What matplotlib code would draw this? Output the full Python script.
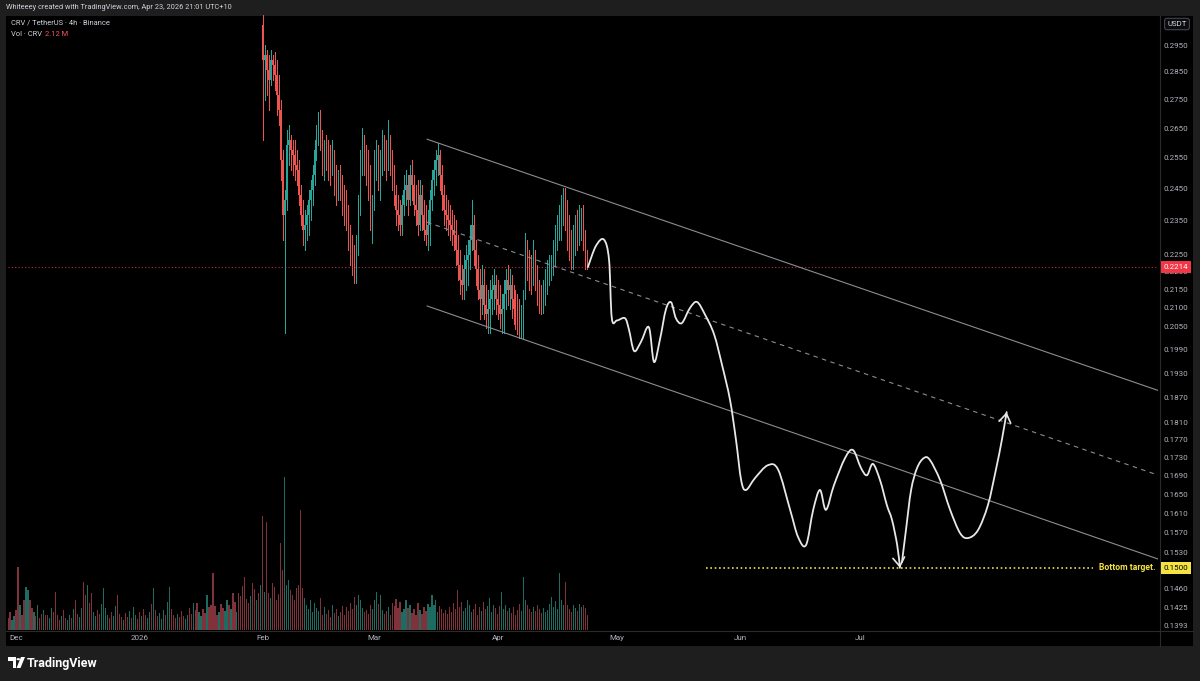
import numpy as np
import matplotlib
matplotlib.use('Agg')
import matplotlib.pyplot as plt
from matplotlib.path import Path
from matplotlib.patches import PathPatch, Rectangle, Polygon, Circle
from matplotlib.lines import Line2D
from matplotlib.ticker import NullLocator, NullFormatter

plt.rcParams['font.family'] = ['Roboto', 'DejaVu Sans']

# ---- data (days counted from 1 Dec 2025) ----
candle_start_day = 62      # 1 Feb 2026
bar_step = 0.5             # 12h bars
first_open = 0.3027

closes = [
    .2894, .2912, .2857, .2820, .2894, .2875, .2838, .2766, .2713, .2543,
    .2369, .2415, .2593, .2610, .2576, .2560, .2527, .2511, .2431, .2369,
    .2324, .2339, .2369, .2415, .2447, .2494, .2576, .2627, .2661, .2610,
    .2543, .2576, .2560, .2543, .2527, .2576, .2478, .2447, .2478, .2462,
    .2415, .2384, .2369, .2309, .2264, .2235, .2207, .2279, .2400, .2527,
    .2576, .2543, .2511, .2478, .2369, .2415, .2527, .2560, .2494, .2543,
    .2593, .2576, .2527, .2610, .2560, .2494, .2431, .2384, .2369, .2339,
    .2400, .2447, .2462, .2415, .2494, .2462, .2400, .2384, .2339, .2431,
    .2369, .2324, .2309, .2339, .2415, .2478, .2511, .2543, .2560, .2494,
    .2431, .2384, .2369, .2354, .2339, .2324, .2309, .2264, .2221, .2178,
    .2164, .2207, .2235, .2250, .2294, .2339, .2264, .2207, .2150, .2123,
    .2164, .2109, .2082, .2096, .2123, .2150, .2164, .2123, .2109, .2082,
    .2096, .2137, .2178, .2150, .2164, .2123, .2096, .2082, .2069, .2056,
    .2069, .2123, .2264, .2221, .2207, .2178, .2235, .2192, .2150, .2123,
    .2109, .2137, .2164, .2207, .2221, .2228, .2264, .2309, .2339, .2369,
    .2384, .2415, .2369, .2309, .2279, .2250, .2294, .2339, .2324, .2354,
    .2369, .2309, .2235, .2214,
]
highs = [
    .3100, .2950, .2931, .2912, .2931, .2912, .2923, .2894, .2838, .2748,
    .2576, .2447, .2644, .2661, .2627, .2610, .2610, .2576, .2543, .2462,
    .2415, .2384, .2400, .2447, .2478, .2527, .2610, .2661, .2705, .2713,
    .2644, .2610, .2627, .2610, .2593, .2610, .2576, .2527, .2511, .2527,
    .2494, .2462, .2447, .2400, .2339, .2309, .2279, .2309, .2431, .2576,
    .2650, .2627, .2593, .2576, .2527, .2431, .2576, .2610, .2593, .2576,
    .2644, .2627, .2610, .2678, .2627, .2576, .2527, .2462, .2431, .2415,
    .2431, .2494, .2511, .2494, .2527, .2543, .2494, .2462, .2478, .2478,
    .2462, .2415, .2400, .2384, .2447, .2511, .2543, .2576, .2599, .2576,
    .2527, .2462, .2431, .2415, .2400, .2384, .2369, .2354, .2309, .2264,
    .2221, .2250, .2279, .2294, .2339, .2415, .2369, .2294, .2250, .2207,
    .2221, .2207, .2164, .2150, .2178, .2192, .2207, .2192, .2178, .2164,
    .2137, .2178, .2207, .2221, .2207, .2192, .2164, .2150, .2137, .2123,
    .2109, .2150, .2313, .2294, .2264, .2250, .2294, .2264, .2221, .2178,
    .2164, .2178, .2207, .2235, .2250, .2250, .2294, .2339, .2369, .2400,
    .2431, .2452, .2452, .2415, .2369, .2324, .2339, .2369, .2384, .2400,
    .2389, .2400, .2324, .2264,
]
lows = [
    .2610, .2748, .2766, .2713, .2802, .2820, .2784, .2695, .2661, .2478,
    .2294, .2033, .2384, .2527, .2511, .2494, .2478, .2462, .2400, .2339,
    .2279, .2264, .2294, .2309, .2354, .2400, .2462, .2543, .2593, .2576,
    .2494, .2478, .2511, .2478, .2462, .2494, .2431, .2400, .2415, .2415,
    .2369, .2339, .2324, .2264, .2221, .2192, .2168, .2168, .2250, .2369,
    .2494, .2494, .2462, .2415, .2324, .2283, .2384, .2478, .2447, .2415,
    .2494, .2511, .2478, .2511, .2494, .2447, .2400, .2339, .2324, .2309,
    .2309, .2369, .2400, .2369, .2400, .2415, .2369, .2339, .2309, .2324,
    .2324, .2294, .2279, .2264, .2279, .2384, .2431, .2462, .2494, .2447,
    .2384, .2339, .2324, .2309, .2294, .2279, .2264, .2221, .2178, .2137,
    .2123, .2123, .2150, .2164, .2207, .2264, .2221, .2164, .2123, .2069,
    .2082, .2069, .2045, .2033, .2033, .2082, .2096, .2082, .2069, .2045,
    .2033, .2033, .2096, .2109, .2096, .2072, .2056, .2042, .2029, .2019,
    .2019, .2019, .2123, .2178, .2150, .2137, .2164, .2150, .2109, .2086,
    .2082, .2086, .2109, .2137, .2164, .2178, .2192, .2221, .2264, .2294,
    .2294, .2339, .2324, .2264, .2235, .2207, .2207, .2250, .2264, .2279,
    .2294, .2264, .2207, .2207,
]

# volume (M), 12h bars starting 29 Nov 2025
vol_start_day = -2
volume = [
    2.4, 3.6, 2.0, 2.8, 4.0, 12.6, 5.0, 3.0, 6.0, 8.6,
    8.0, 6.0, 4.4, 3.6, 2.8, 5.0, 2.4, 3.2, 4.0, 3.0,
    3.0, 2.4, 4.4, 3.6, 7.6, 3.0, 2.0, 2.8, 4.0, 2.4,
    2.0, 3.0, 2.4, 4.2, 6.0, 3.2, 2.6, 4.4, 9.6, 7.0,
    9.0, 5.4, 7.4, 3.6, 2.8, 4.0, 3.2, 5.2, 8.4, 4.4,
    3.0, 2.4, 3.6, 2.8, 4.8, 7.0, 3.2, 2.6, 2.0, 3.4,
    2.6, 3.8, 2.4, 4.6, 3.0, 2.2, 3.6, 2.8, 4.2, 3.0,
    2.4, 3.6, 5.2, 8.4, 4.0, 2.8, 3.4, 2.2, 4.0, 3.0,
    5.6, 8.6, 4.2, 3.0, 2.4, 3.2, 2.6, 3.8, 2.8, 2.2,
    3.0, 4.4, 3.2, 5.4, 4.0, 5.4, 3.6, 2.8, 4.2, 3.4,
    7.0, 4.6, 5.0, 11.4, 4.8, 3.0, 3.6, 5.2, 4.4, 3.8,
    6.0, 5.0, 4.2, 7.4, 5.6, 3.6, 7.4, 6.8, 8.8, 10.6,
    6.2, 5.4, 6.8, 9.4, 8.2, 6.0, 7.4, 9.0,
    22.8, 7.6, 21.6, 7.4, 6.4, 9.4, 8.6, 6.0, 7.2, 17.4,
    12.0, 30.6, 9.0, 10.0, 8.0, 7.0, 6.0, 8.4, 9.0, 24.0,
    8.4, 6.4,
    5.0, 4.2, 6.0, 3.6, 5.4, 4.4, 3.8, 6.4, 3.0, 4.6,
    3.2, 4.0, 2.6, 5.0, 3.4, 4.2, 2.8, 3.6, 4.8, 3.0,
    4.6, 3.8, 5.4, 4.2, 6.6, 5.0, 7.0, 6.0, 4.4, 3.6,
    4.0, 3.2, 5.0, 4.2, 6.0, 7.6, 5.2, 7.0, 4.0, 3.2,
    3.8, 4.6, 3.0, 5.4, 4.8, 6.2, 4.4, 5.6, 3.6, 4.2,
    6.0, 4.4, 5.0, 3.4, 4.2, 3.0, 5.4, 4.0, 3.2, 4.6,
    3.8, 5.2, 4.6, 7.0, 5.0, 6.0, 3.6, 4.8, 4.2, 3.4,
    4.0, 3.2, 4.6, 3.6, 5.4, 4.2, 8.0, 4.6, 5.6, 3.8,
    4.4, 6.0, 5.0, 3.6, 4.2, 5.2, 3.0, 4.6, 3.8, 5.6,
    4.2, 4.8, 6.4, 3.6, 5.0, 4.4, 3.2, 4.8, 7.6, 4.2,
    5.0, 3.8, 4.4, 3.4, 4.6, 3.0, 4.0, 5.2, 3.8, 10.6,
    6.0, 5.0, 4.2, 3.6, 4.6, 3.8, 5.0, 4.2, 3.4, 4.4,
    3.6, 4.0, 5.2, 6.6, 4.6, 5.8, 4.2, 11.4, 6.0, 5.0,
    9.6, 5.0, 4.2, 3.6, 5.0, 4.4, 3.8, 5.2, 4.6, 5.0,
    4.4, 3.0,
]
# up/down for the volume bars before the visible candles
pre_feb_dirs = ''.join([
    'dduuddud', 'duuddudu', 'ddudduud', 'dddudduu',
    'dudduudd', 'udduuddu', 'uuudduud', 'dduddudu',
    'uddudduu', 'dudduuud', 'uudddudd', 'duuddudd',
    'uudduddd', 'ddudduud', 'uddudddd', 'dduddudu',
])

month_days = [0, 31, 62, 90, 121, 151, 182, 212]
month_labels = ['Dec', '2026', 'Feb', 'Mar', 'Apr', 'May', 'Jun', 'Jul']
price_ticks = [0.2950, 0.2850, 0.2750, 0.2650, 0.2550, 0.2450, 0.2350, 0.2250,
               0.2200, 0.2150, 0.2100, 0.2050, 0.1990, 0.1930, 0.1870, 0.1810,
               0.1770, 0.1730, 0.1690, 0.1650, 0.1610, 0.1570, 0.1530, 0.1460,
               0.1425, 0.1393]
last_price = 0.2214
target_price = 0.1500
target_days = [173.4, 270.6]

channel_days = [103.3, 290.0]
channel_upper = [0.2612, 0.1877]
channel_mid = [0.2346, 0.1682]
channel_lower = [0.2105, 0.1509]

path_a_days = [143.7, 145.7, 147.7, 149.0, 149.7, 151.0, 153.0, 154.0, 155.3, 157.0,
               159.0, 160.3, 161.8, 163.3, 164.6, 165.8, 167.3, 169.3, 171.1, 173.1,
               175.4, 177.4, 179.4, 180.9, 182.2, 183.4, 185.7, 188.9, 191.5, 194.5,
               196.5, 198.5, 200.3, 202.0, 203.5, 205.5, 208.3, 210.3, 212.3, 213.8,
               215.3, 217.1, 218.8, 220.1, 221.4, 222.1]
path_a_prices = [.2214, .2275, .2294, .2235, .2072, .2066, .2072, .2042, .1986, .2009,
                 .2048, .1958, .2016, .2096, .2115, .2072, .2059, .2099, .2116, .2082,
                 .2029, .1950, .1864, .1770, .1680, .1659, .1685, .1713, .1703, .1617,
                 .1561, .1545, .1617, .1659, .1617, .1669, .1729, .1747, .1707, .1691,
                 .1716, .1680, .1627, .1596, .1545, .1500]
path_b_days = [222.6, 223.6, 224.9, 226.4, 228.1, 229.6, 232.2, 234.7, 237.2, 239.2,
               241.7, 244.2, 246.2, 247.7, 248.9]
path_b_prices = [.1511, .1575, .1659, .1707, .1729, .1725, .1680, .1617, .1569, .1559,
                 .1575, .1627, .1703, .1770, .1835]

UP = '#26a69a'
DOWN = '#ef5350'
AXIS_TXT = '#b2b5be'
W, H = 1200, 681


def px(x, y):
    return x / W, 1 - y / H


def smooth(days, prices):
    # catmull-rom through the waypoints, built in (day, log price)
    p = np.column_stack([days, np.log(prices)])
    n = len(p)
    verts = [p[0]]
    codes = [Path.MOVETO]
    for i in range(n - 1):
        p0 = p[max(i - 1, 0)]
        p1 = p[i]
        p2 = p[i + 1]
        p3 = p[min(i + 2, n - 1)]
        verts += [p1 + (p2 - p0) / 6, p2 - (p3 - p1) / 6, p2]
        codes += [Path.CURVE4] * 3
    verts = np.array(verts)
    verts[:, 1] = np.exp(verts[:, 1])
    return Path(verts, codes), verts


fig = plt.figure(figsize=(12, 6.81), dpi=100, facecolor='#1e1e1e')
fig.add_artist(Rectangle(px(6, 646), 1187 / W, 630 / H, transform=fig.transFigure,
                         fc='black', ec='none', zorder=0))

rect = [8 / W, 1 - 630 / H, 1150 / W, 615 / H]
ax_v = fig.add_axes(rect, zorder=1)
ax = fig.add_axes(rect, zorder=2)
ax.patch.set_visible(False)
ax_v.axis('off')

xlim = (-2.01, 286.93)
ax.set_xlim(*xlim)
ax_v.set_xlim(*xlim)

# volume
n_c = len(closes)
opens = [first_open] + closes[:-1]
up = [c >= o for o, c in zip(opens, closes)]
n_pre = len(volume) - n_c
vol_up = [pre_feb_dirs[j] == 'u' for j in range(n_pre)] + up
vol_days = vol_start_day + bar_step * np.arange(len(volume))
vol_cols = ['#1d6b61' if u else '#80323a' for u in vol_up]
ax_v.bar(vol_days, volume, width=0.3, color=vol_cols, lw=0, antialiased=False)
ax_v.set_ylim(0, 123)

# candles
days_c = candle_start_day + bar_step * np.arange(n_c)
o = np.array(opens)
c = np.array(closes)
hi = np.maximum(np.array(highs), np.maximum(o, c))
lo = np.minimum(np.array(lows), np.minimum(o, c))
cols = [UP if u else DOWN for u in up]
ax.vlines(days_c, lo, hi, colors=cols, lw=0.7, zorder=3, antialiased=False)
ax.bar(days_c, np.maximum(np.abs(c - o), 0.0004), bottom=np.minimum(o, c),
       width=0.3, color=cols, lw=0, zorder=3, antialiased=False)

ax.set_yscale('log')
ax.set_ylim(0.13841, 0.30675)

# last price line
ax.axhline(last_price, color='#f23645', lw=0.8, ls=(0, (1, 2)), alpha=0.8, zorder=2)

# channel
ax.plot(channel_days, channel_upper, color='#8a8d94', lw=0.8, zorder=4)
ax.plot(channel_days, channel_lower, color='#8a8d94', lw=0.8, zorder=4)
ax.plot(channel_days, channel_mid, color='#8a8d94', lw=0.8, ls=(0, (4, 4)), zorder=4)

# projected path
for d, pr in [(path_a_days, path_a_prices), (path_b_days, path_b_prices)]:
    path, verts = smooth(d, pr)
    ax.add_patch(PathPatch(path, fc='none', ec='#e8e8e8', lw=1.3, zorder=5,
                           capstyle='round'))
    ax.annotate('', xy=verts[-1], xytext=verts[-2],
                arrowprops=dict(arrowstyle='->,head_length=0.45,head_width=0.3',
                                color='#e8e8e8', lw=1.2, shrinkA=0, shrinkB=0,
                                mutation_scale=14), zorder=5)

# bottom target
ax.plot(target_days, [target_price] * 2, color='#e6de55', lw=1.2,
        ls=(0, (1, 1.6)), zorder=4)
ax.text(0.9975, target_price, 'Bottom target.', transform=ax.get_yaxis_transform(),
        ha='right', va='center', fontsize=6.2, fontweight='bold', color='#f5e342')

# axes styling
for s in ax.spines.values():
    s.set_visible(False)
ax.set_xticks(month_days)
ax.set_xticklabels(month_labels)
ax.yaxis.tick_right()
ax.set_yticks(price_ticks)
ax.set_yticklabels(['%.4f' % t for t in price_ticks])
ax.yaxis.set_minor_locator(NullLocator())
ax.yaxis.set_minor_formatter(NullFormatter())
ax.tick_params(axis='x', length=0, pad=3.5, labelsize=5.8, labelcolor=AXIS_TXT)
ax.tick_params(axis='y', length=0, pad=4, labelsize=5.8, labelcolor=AXIS_TXT)

# price labels on the scale
ax.text(1.0047, last_price, '%.4f' % last_price, transform=ax.get_yaxis_transform(),
        ha='left', va='center', fontsize=5.8, color='white', clip_on=False, zorder=10,
        bbox=dict(boxstyle='square,pad=0.35', fc='#f23645', ec='none'))
ax.text(1.0047, target_price, '%.4f' % target_price, transform=ax.get_yaxis_transform(),
        ha='left', va='center', fontsize=5.8, color='black', clip_on=False, zorder=10,
        bbox=dict(boxstyle='square,pad=0.35', fc='#f5e342', ec='none'))

# separators
fig.add_artist(Line2D([1160 / W, 1160 / W], [px(0, 16)[1], px(0, 646)[1]],
                      color='#2a2a2a', lw=0.8))
fig.add_artist(Line2D([6 / W, 1193 / W], [px(0, 631)[1]] * 2, color='#2a2a2a', lw=0.8))

# header texts
fig.text(*px(6, 7.5), 'Whiteeey created with TradingView.com, Apr 23, 2026 21:01 UTC+10',
         fontsize=5.3, color='#d1d4dc', va='center')
fig.text(*px(11, 23), 'CRV / TetherUS · 4h · Binance', fontsize=5.4, color='#d1d4dc',
         va='center')
fig.text(*px(11, 34), 'Vol · CRV', fontsize=5.4, color='#d1d4dc', va='center')
fig.text(*px(45, 34), '2.12 M', fontsize=5.4, color='#f7525f', va='center')
fig.text(*px(1177, 24), 'USDT', fontsize=5.6, color='#d1d4dc', va='center', ha='center',
         bbox=dict(boxstyle='round,pad=0.35,rounding_size=0.3', fc='#0c0c0c',
                   ec='#434651', lw=0.8))

# footer logo
fig.add_artist(Polygon([px(8, 657), px(16, 657), px(16, 668), px(12.5, 668),
                        px(12.5, 661), px(8, 661)], closed=True, fc='white', ec='none',
                       transform=fig.transFigure))
fig.add_artist(Circle(px(18.3, 659.2), 1.9 / W, fc='white', ec='none',
                      transform=fig.transFigure))
fig.add_artist(Polygon([px(21, 657), px(25, 657), px(20.5, 668), px(16.5, 668)],
                       closed=True, fc='white', ec='none', transform=fig.transFigure))
fig.text(*px(27, 663), 'TradingView', fontsize=9, fontweight='bold', color='white',
         va='center')

fig.savefig('out.png', dpi=100, facecolor=fig.get_facecolor())
